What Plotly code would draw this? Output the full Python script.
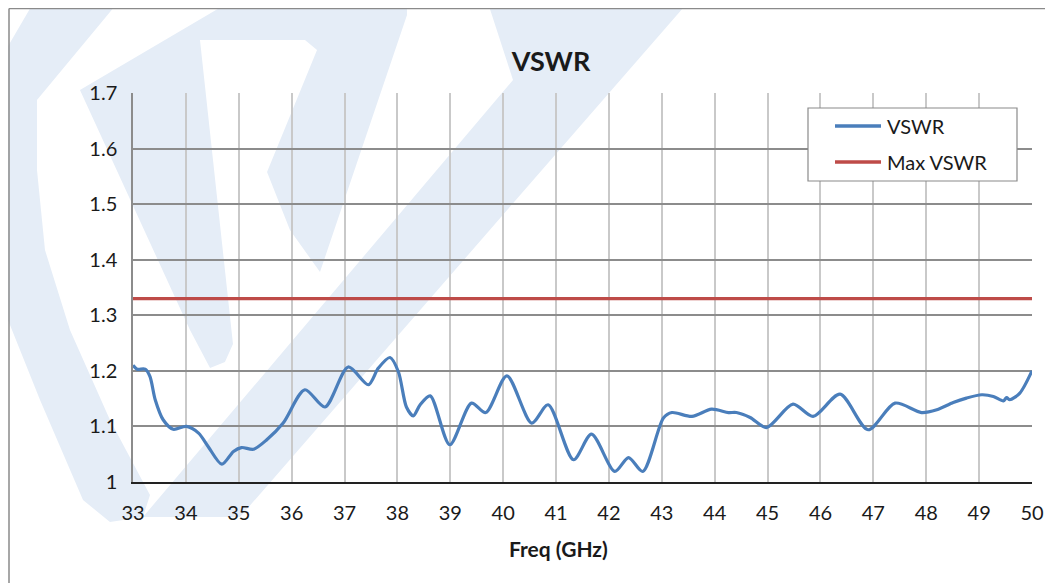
import plotly.graph_objects as go

# ---- data ----
freq = [33.00, 33.08, 33.23, 33.32, 33.42, 33.57, 33.76, 34.01, 34.24, 34.42,
        34.68, 34.90, 35.05, 35.28, 35.53, 35.84, 36.25, 36.63, 37.07, 37.45,
        37.64, 37.86, 38.02, 38.17, 38.30, 38.43, 38.62, 38.99, 39.40, 39.67,
        40.07, 40.54, 40.85, 41.33, 41.67, 42.11, 42.37, 42.64, 43.03, 43.19,
        43.57, 43.94, 44.26, 44.41, 44.67, 44.98, 45.48, 45.86, 46.37, 46.90,
        47.41, 47.91, 48.20, 48.51, 48.76, 49.05, 49.27, 49.46, 49.52, 49.58,
        49.77, 50.00]
vswr = [1.210, 1.203, 1.203, 1.190, 1.148, 1.112, 1.095, 1.100, 1.088, 1.064,
        1.032, 1.055, 1.062, 1.059, 1.076, 1.106, 1.166, 1.135, 1.207, 1.175,
        1.205, 1.224, 1.198, 1.135, 1.119, 1.139, 1.155, 1.067, 1.142, 1.125,
        1.191, 1.106, 1.139, 1.040, 1.086, 1.019, 1.044, 1.019, 1.115, 1.125,
        1.118, 1.131, 1.125, 1.125, 1.116, 1.098, 1.140, 1.118, 1.158, 1.094,
        1.142, 1.125, 1.130, 1.143, 1.151, 1.157, 1.154, 1.146, 1.152, 1.148,
        1.160, 1.200]
max_freq = [33, 50]
max_vswr = [1.33, 1.33]

x_ticks = list(range(33, 51))
y_ticks = [1.0, 1.1, 1.2, 1.3, 1.4, 1.5, 1.6, 1.7]
y_tick_text = ["1", "1.1", "1.2", "1.3", "1.4", "1.5", "1.6", "1.7"]
legend_names = ["VSWR", "Max VSWR"]

FONT = "Lato, 'Open Sans', sans-serif"
BLUE = "#4a7ebb"
RED = "#be4b48"

# Page offset (body margin) and plot-area geometry in screen pixels
OFF = 8
W, H = 1053, 583
PL, PR, PT, PB = 133, 1032, 93, 482


def px(x, y):
    return (x - PL) / (PR - PL), (PB - y) / (PB - PT)


def poly(points):
    pts = [px(x, y) for x, y in points]
    return "M " + " L ".join(f"{a:.4f},{b:.4f}" for a, b in pts) + " Z"


wm_color = "#e5edf7"
watermark = [
    # outer left band
    [(35, 0), (120, 0), (37, 100), (37, 170), (45, 250), (70, 330), (110, 420),
     (150, 495), (143, 517), (110, 522), (83, 500), (40, 400), (0, 300), (0, 60)],
    # upper stroke + top band + short falling tip
    [(80, 90), (233, 0), (407, 0), (407, 15), (320, 272), (290, 230), (267, 172),
     (317, 50), (305, 40), (200, 40), (233, 344), (225, 362), (210, 368), (190, 330)],
    # main rising diagonal with notch at the top
    [(143, 517), (240, 517), (690, 0), (487, 0), (513, 80)],
]

shapes = []
for p in watermark:
    shapes.append(dict(type="path", path=poly(p), xref="paper", yref="paper",
                       fillcolor=wm_color, line=dict(width=0), layer="below"))

# chart-area border (top and left edges visible)
bx0, by0 = px(9, 8.5)
bx1, _ = px(W + 40, 8.5)
_, by1 = px(9, H + 40)
shapes.append(dict(type="line", xref="paper", yref="paper", x0=bx0, x1=bx1, y0=by0, y1=by0,
                   line=dict(color="#8a8a8a", width=1.5)))
shapes.append(dict(type="line", xref="paper", yref="paper", x0=bx0, x1=bx0, y0=by0, y1=by1,
                   line=dict(color="#8a8a8a", width=1.5)))

# legend box drawn by hand to match the reference geometry
lx0, ly0 = px(808, 108)
lx1, ly1 = px(1017, 181)
shapes.append(dict(type="rect", xref="paper", yref="paper", x0=lx0, x1=lx1, y0=ly0, y1=ly1,
                   fillcolor="white", line=dict(color="#8a8a8a", width=1.2)))
legend_rows = [126, 162]
legend_colors = [BLUE, RED]
annotations = []
for name, row, col in zip(legend_names, legend_rows, legend_colors):
    sx0, sy = px(835, row)
    sx1, _ = px(881, row)
    shapes.append(dict(type="line", xref="paper", yref="paper", x0=sx0, x1=sx1, y0=sy, y1=sy,
                       line=dict(color=col, width=3.5)))
    tx0, _ = px(885, row)
    annotations.append(dict(text=name, x=tx0, y=sy, xref="paper", yref="paper", showarrow=False,
                            xanchor="left", yanchor="middle",
                            font=dict(size=20, family=FONT, color="#1a1a1a")))

fig = go.Figure()
fig.add_trace(go.Scatter(x=freq, y=vswr, mode="lines", name=legend_names[0],
                         line=dict(color=BLUE, width=3.2, shape="spline", smoothing=0.8)))
fig.add_trace(go.Scatter(x=max_freq, y=max_vswr, mode="lines", name=legend_names[1],
                         line=dict(color=RED, width=3.2)))

tx, ty = px(558, 548)
annotations.append(dict(text="<b>Freq (GHz)</b>", x=tx, y=ty, xref="paper", yref="paper",
                        showarrow=False, xanchor="center", yanchor="middle",
                        font=dict(size=21, family=FONT, color="#1a1a1a")))

fig.update_layout(
    width=W, height=H,
    margin=dict(l=PL - OFF, r=W - PR + OFF, t=PT - OFF, b=H - PB + OFF),
    paper_bgcolor="white", plot_bgcolor="rgba(0,0,0,0)",
    font=dict(family=FONT, color="#1a1a1a", size=20),
    title=dict(text="<b>VSWR</b>", x=(551 - OFF) / W, xanchor="center", y=1 - (62 - OFF) / H,
               yanchor="middle", yref="container", font=dict(size=27, family=FONT, color="#1a1a1a")),
    showlegend=False,
    xaxis=dict(range=[33, 50], tickvals=x_ticks, showgrid=True, gridcolor="#c9c9c9",
               gridwidth=1.5, showline=True, linecolor="#222", linewidth=2, zeroline=False,
               ticks="", ticklabelstandoff=12, tickfont=dict(size=20)),
    yaxis=dict(range=[1, 1.7], tickvals=y_ticks, ticktext=y_tick_text, showgrid=True,
               gridcolor="#8c8c8c", gridwidth=1.5, showline=True, linecolor="#8c8c8c",
               linewidth=1.5, zeroline=False, ticks="", ticklabelstandoff=10,
               tickfont=dict(size=20)),
    shapes=shapes,
    annotations=annotations,
)

fig.write_html("out.html")
